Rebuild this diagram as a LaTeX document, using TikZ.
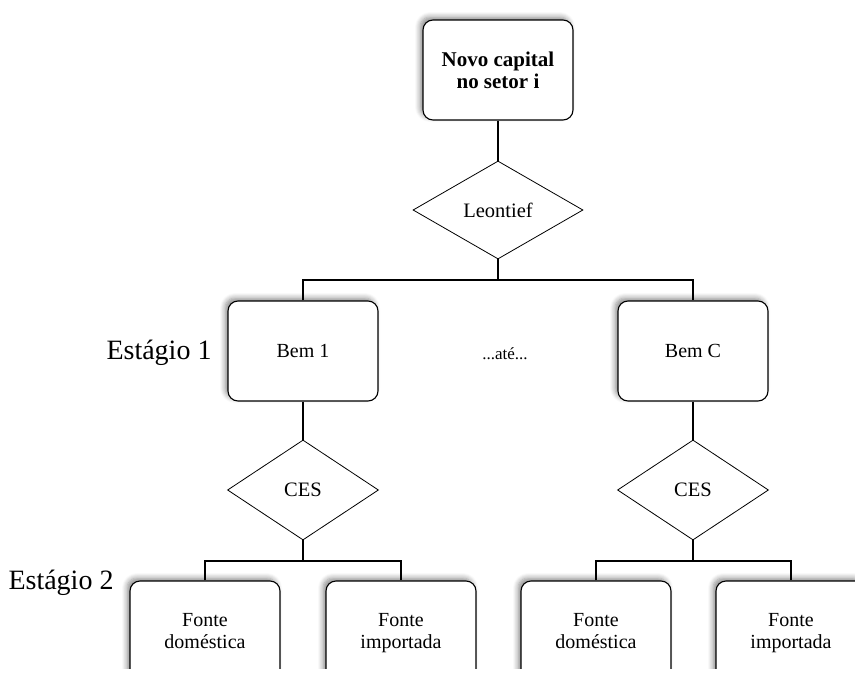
\documentclass[tikz,border=0pt]{standalone}
\usepackage{fontspec}
\setmainfont{Liberation Serif}
\usetikzlibrary{shapes.geometric,shadows.blur}
\begin{document}
\begin{tikzpicture}[x=1pt,y=-1pt,
  boxnode/.style={draw=black,line width=1.1pt,fill=white,rounded corners=10pt,
    minimum width=150pt,minimum height=100pt,align=center,inner sep=2pt,
    font=\fontsize{20}{22}\selectfont,
    blur shadow={shadow xshift=-3pt,shadow yshift=3pt,shadow blur steps=6,shadow blur radius=5pt,shadow opacity=45}},
  lowbox/.style={boxnode,minimum height=104pt},
  diamondnode/.style={draw=black,line width=0.8pt,fill=white,diamond,inner sep=0pt,
    font=\fontsize{20.5}{23}\selectfont},
  link/.style={draw=black,line width=1.8pt},
  stagelabel/.style={font=\fontsize{28}{32}\selectfont,inner sep=0pt}]
\useasboundingbox (0,0) rectangle (855,675);
\begin{scope}
\clip (0,0) rectangle (855,668);
% nodes
\node[boxnode,font=\fontsize{21}{22}\selectfont\bfseries] (top) at (498,70) {Novo capital\\no setor i};
\node[diamondnode,minimum width=170pt,minimum height=98pt] (leon) at (498,210) {Leontief};
\node[boxnode] (bem1) at (303,351) {Bem 1};
\node[boxnode] (bemc) at (693,351) {Bem C};
\node[diamondnode,minimum width=151pt,minimum height=100pt] (ces1) at (303,490) {CES};
\node[diamondnode,minimum width=151pt,minimum height=100pt] (ces2) at (693,490) {CES};
\node[lowbox] (fd1) at (205,633) {Fonte\strut\\doméstica\strut};
\node[lowbox] (fi1) at (401,633) {Fonte\strut\\importada\strut};
\node[lowbox] (fd2) at (596,633) {Fonte\strut\\doméstica\strut};
\node[lowbox] (fi2) at (791,633) {Fonte\strut\\importada\strut};
\node[stagelabel] (st1) at (159,353) {Estágio 1};
\node[stagelabel] (st2) at (61,583) {Estágio 2};
\node[font=\fontsize{17}{19}\selectfont] (ate) at (505,354) {...até...};
% connector junctions
\coordinate (bar1) at (498,280);
\coordinate (bar2) at (303,561);
\coordinate (bar3) at (693,561);
% connectors
\draw[link] (top.south) -- (leon.north);
\draw[link] (leon.south) -- (bar1);
\draw[link] (bem1.north) |- (bar1) -| (bemc.north);
\draw[link] (bem1.south) -- (ces1.north);
\draw[link] (bemc.south) -- (ces2.north);
\draw[link] (ces1.south) -- (bar2);
\draw[link] (ces2.south) -- (bar3);
\draw[link] (fd1.north) |- (bar2) -| (fi1.north);
\draw[link] (fd2.north) |- (bar3) -| (fi2.north);
\end{scope}
\end{tikzpicture}
\end{document}
